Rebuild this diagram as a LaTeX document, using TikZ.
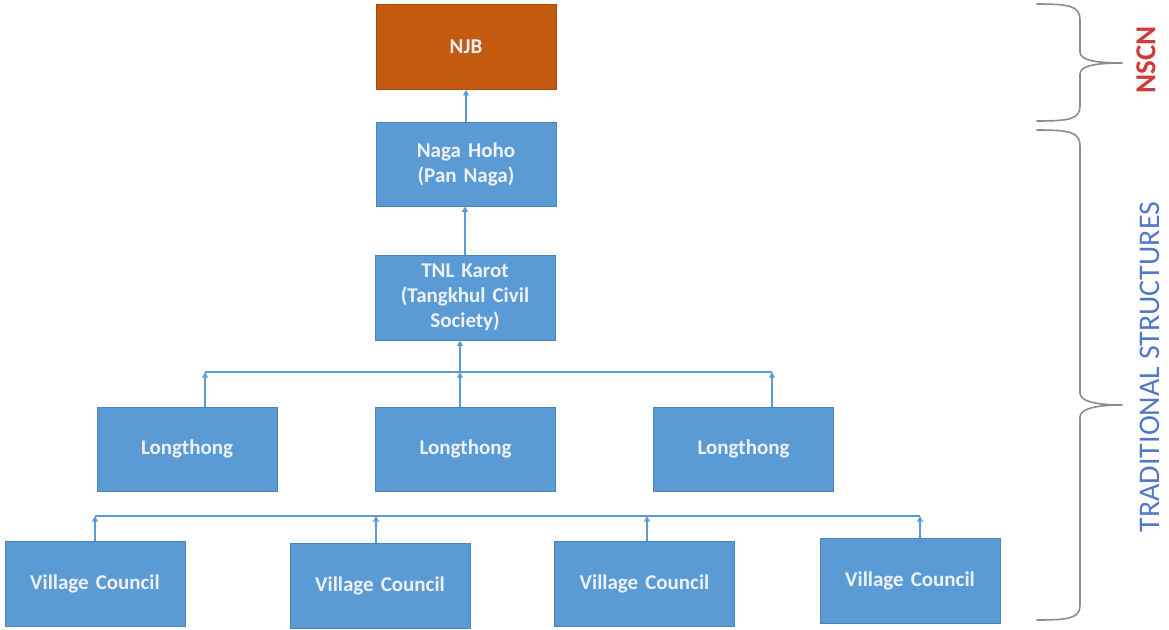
\documentclass[tikz,border=0pt]{standalone}
\usepackage{fontspec}
\setmainfont{Carlito}
\usetikzlibrary{arrows.meta}
\definecolor{boxblue}{HTML}{5B9BD5}
\definecolor{boxorange}{HTML}{C55A11}
\definecolor{txtwhite}{HTML}{EEF2F8}
\definecolor{bracegray}{HTML}{8C8C8C}
\definecolor{nscnred}{HTML}{D03A3A}
\definecolor{tradblue}{HTML}{5478C8}
\tikzset{
  orgbox/.style={rectangle, fill=boxblue, draw=boxblue!85!black, line width=0.6pt, minimum width=180pt, minimum height=85pt, inner sep=2pt, text=txtwhite, font=\fontsize{21}{25}\selectfont\bfseries, align=center, text width=172pt},
  topbox/.style={orgbox, fill=boxorange, draw=boxorange!85!black},
  conn/.style={draw=boxblue, line width=1.3pt},
  arr/.style={conn, -{Triangle[width=5.5pt,length=5.5pt]}},
  bracestyle/.style={draw=bracegray, line width=1.6pt, line cap=round, line join=round},
}
\begin{document}
\begin{tikzpicture}[x=1pt,y=-1pt]
\useasboundingbox (0,0) rectangle (1169,629);
% boxes
\node[topbox] (njb) at (466,47) {NJB};
\node[orgbox, minimum height=84pt] (hoho) at (466,164) {Naga Hoho\\(Pan Naga)};
\node[orgbox] (tnl) at (465,297.5) {TNL Karot\\(Tangkhul Civil\\Society)};
\node[orgbox, minimum height=84pt] (l1) at (187,449) {Longthong};
\node[orgbox, minimum height=84pt] (l2) at (465.5,449) {Longthong};
\node[orgbox, minimum height=84pt] (l3) at (743.5,449) {Longthong};
\node[orgbox] (v1) at (95,583.5) {Village Council};
\node[orgbox] (v2) at (380,586) {Village Council};
\node[orgbox] (v3) at (644.5,584) {Village Council};
\node[orgbox] (v4) at (910,580.5) {Village Council};
% connectors top
\draw[arr] (hoho.north) -- (njb.south);
\draw[arr] (tnl.north) -- (tnl.north |- hoho.south);
% longthong level
\coordinate (la) at (205,372);
\coordinate (lb) at (460,372);
\coordinate (lc) at (772,372);
\draw[conn] (la) -- (lc);
\draw[arr] ([xshift=18pt]l1.north) -- (la);
\draw[arr] ([xshift=-5.5pt]l2.north) -- (lb);
\draw[arr] ([xshift=28.5pt]l3.north) -- (lc);
\draw[arr] (lb) -- (lb |- tnl.south);
% village level
\coordinate (va) at (95,516);
\coordinate (vb) at (376,516);
\coordinate (vc) at (647,516);
\coordinate (vd) at (920,516);
\draw[conn] (va) -- (vd);
\draw[arr] (v1.north) -- (va);
\draw[arr] ([xshift=-4pt]v2.north) -- (vb);
\draw[arr] ([xshift=2.5pt]v3.north) -- (vc);
\draw[arr] ([xshift=10pt]v4.north) -- (vd);
% braces
\draw[bracestyle] (1037,4) .. controls (1070,4) and (1080,6) .. (1080,20) -- (1080,52)
  .. controls (1080,60) and (1095,63) .. (1122,63)
  .. controls (1095,63) and (1080,66) .. (1080,74) -- (1080,106)
  .. controls (1080,119) and (1070,121) .. (1037,121);
\draw[bracestyle] (1037,130) .. controls (1070,130) and (1080,132) .. (1080,146) -- (1080,393)
  .. controls (1080,401) and (1095,405) .. (1122,405)
  .. controls (1095,405) and (1080,409) .. (1080,417) -- (1080,605)
  .. controls (1080,618) and (1070,620) .. (1037,620);
\node[rotate=90, text=nscnred, font=\fontsize{29}{32}\selectfont\bfseries] (nscn) at (1146,60) {NSCN};
\node[rotate=90, text=tradblue, font=\fontsize{30}{34}\selectfont] (trad) at (1150,367) {TRADITIONAL STRUCTURES};
\end{tikzpicture}
\end{document}
